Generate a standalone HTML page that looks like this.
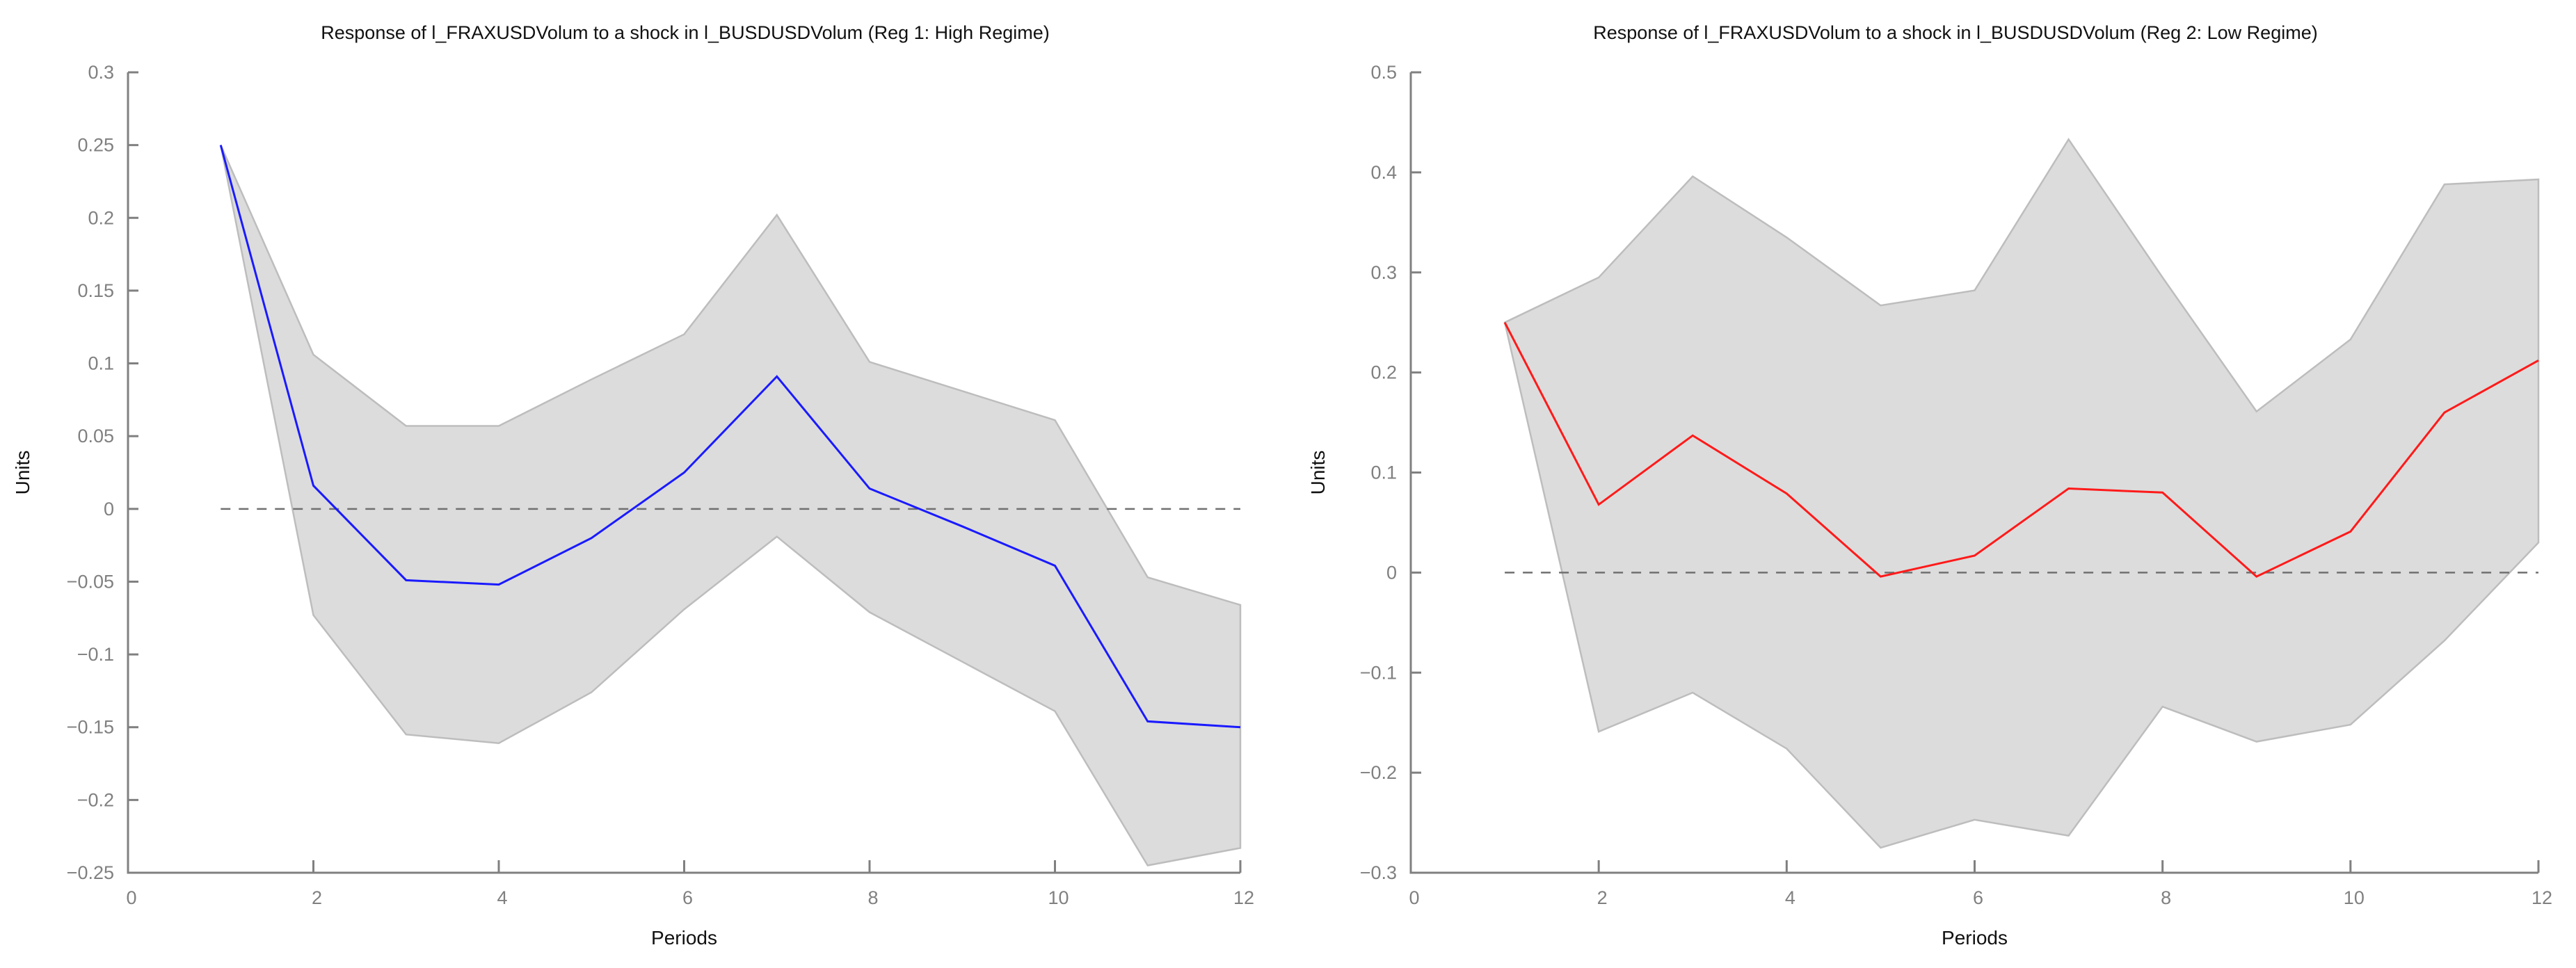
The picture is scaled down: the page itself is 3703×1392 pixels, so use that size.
<!DOCTYPE html>
<html><head><meta charset="utf-8"><style>
html,body{margin:0;padding:0;background:#fff;}
svg{display:block;font-family:"Liberation Sans","DejaVu Sans",sans-serif;}
</style></head><body>
<svg id="chart" width="3703" height="1392" viewBox="0 0 3703 1392"></svg>
<script>
const periods = [1,2,3,4,5,6,7,8,9,10,11,12];
const xTicks = [0,2,4,6,8,10,12];
const leftMean = [0.25,0.016,-0.049,-0.052,-0.02,0.025,0.091,0.014,-0.012,-0.039,-0.146,-0.15];
const leftUpper = [0.25,0.106,0.057,0.057,0.089,0.12,0.202,0.101,0.081,0.061,-0.047,-0.066];
const leftLower = [0.25,-0.073,-0.155,-0.161,-0.126,-0.069,-0.019,-0.071,-0.105,-0.139,-0.245,-0.233];
const leftYTicks = [-0.25,-0.2,-0.15,-0.1,-0.05,0,0.05,0.1,0.15,0.2,0.25,0.3];
const rightMean = [0.25,0.068,0.137,0.079,-0.004,0.017,0.084,0.080,-0.004,0.041,0.160,0.212];
const rightUpper = [0.25,0.295,0.396,0.335,0.267,0.282,0.433,0.295,0.161,0.233,0.388,0.393];
const rightLower = [0.25,-0.159,-0.12,-0.176,-0.275,-0.247,-0.263,-0.134,-0.169,-0.152,-0.068,0.03];
const rightYTicks = [-0.3,-0.2,-0.1,0,0.1,0.2,0.3,0.4,0.5];

const svg = document.getElementById('chart');
const NS = 'http://www.w3.org/2000/svg';
function mk(tag, attrs, parent){
  const e = document.createElementNS(NS, tag);
  for (const k in attrs) e.setAttribute(k, attrs[k]);
  (parent||svg).appendChild(e);
  return e;
}
function fmt(v){
  let s = String(Math.round(v*1000)/1000);
  return s.replace('-', '\u2212');
}
function panel(p){
  const g = mk('g', {});
  
  
  const X = v => p.x0 + (v - 0) / 12 * (p.x1 - p.x0);
  const Y = v => p.yb + (v - p.ymin) / (p.ymax - p.ymin) * (p.yt - p.yb);
  // band
  let pts = periods.map((t,i)=>X(t)+','+Y(p.upper[i]));
  pts = pts.concat(periods.slice().reverse().map((t,j)=>{const i=periods.length-1-j;return X(t)+','+Y(p.lower[i]);}));
  const band = mk('polygon', {points: pts.join(' '), fill:'#dcdcdc', stroke:'#bdbdbd', 'stroke-width':2.5}, g);
  
  
  // zero line
  const z = mk('line', {x1:X(periods[0]), x2:X(periods[periods.length-1]), y1:Y(0), y2:Y(0), stroke:'#707070', 'stroke-width':2.5, 'stroke-dasharray':'14 12'}, g);
  
  
  // response line
  const ln = mk('polyline', {points: periods.map((t,i)=>X(t)+','+Y(p.mean[i])).join(' '), fill:'none', stroke:p.color, 'stroke-width':3}, g);
  
  
  // axes
  const ax = mk('path', {d:`M${p.x0},${p.yt} L${p.x0},${p.yb} L${p.x1},${p.yb}`, fill:'none', stroke:'#808080', 'stroke-width':3}, g);
  
  
  p.yTicks.forEach(v=>{
    const y = Y(v);
    const t = mk('line', {x1:p.x0, x2:p.x0+15, y1:y, y2:y, stroke:'#808080', 'stroke-width':3}, g);
    
    
    const l = mk('text', {x:p.x0-20, y:y+9, 'text-anchor':'end', 'font-size':27, fill:'#808080'}, g);
    
    
    l.textContent = fmt(v);
  });
  xTicks.forEach(v=>{
    const x = X(v);
    if (v>0){
      const t = mk('line', {x1:x, x2:x, y1:p.yb, y2:p.yb-18, stroke:'#808080', 'stroke-width':3}, g);
      
      
    }
    const l = mk('text', {x:x+5, y:p.yb+45, 'text-anchor':'middle', 'font-size':27, fill:'#808080'}, g);
    
    
    l.textContent = v;
  });
  const ti = mk('text', {x:p.tx, y:56, 'text-anchor':'middle', 'font-size':27, fill:'#111'}, g);
  
  
  ti.textContent = p.title;
  const xl = mk('text', {x:(p.x0+p.x1)/2, y:1358, 'text-anchor':'middle', 'font-size':28, fill:'#111'}, g);
  
  
  xl.textContent = 'Periods';
  const yl = mk('text', {x:0, y:0, transform:`translate(${p.ylx},${(p.yt+p.yb)/2}) rotate(-90)`, 'text-anchor':'middle', 'font-size':28, fill:'#111'}, g);
  
  
  yl.textContent = 'Units';
}
panel({name:'high-regime-panel', x0:184, x1:1783, yb:1255, yt:104, ymin:-0.25, ymax:0.3, mean:leftMean, upper:leftUpper, lower:leftLower, yTicks:leftYTicks, color:'#1a1aff', tx:985, ylx:42,
  title:'Response of l_FRAXUSDVolum to a shock in l_BUSDUSDVolum (Reg 1: High Regime)'});
panel({name:'low-regime-panel', x0:2028, x1:3649, yb:1255, yt:104, ymin:-0.3, ymax:0.5, mean:rightMean, upper:rightUpper, lower:rightLower, yTicks:rightYTicks, color:'#ff1a1a', tx:2811, ylx:1904,
  title:'Response of l_FRAXUSDVolum to a shock in l_BUSDUSDVolum (Reg 2: Low Regime)'});
</script>
</body></html>
